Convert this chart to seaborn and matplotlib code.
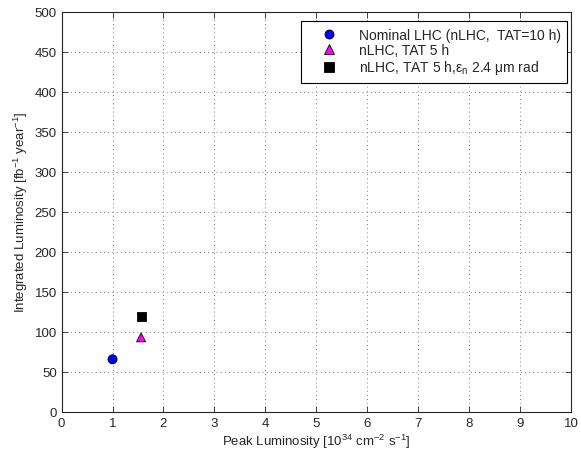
import matplotlib
matplotlib.use("Agg")
import matplotlib.pyplot as plt
import seaborn as sns
import pandas as pd

labels = [
    "Nominal LHC (nLHC,  TAT=10 h)",
    "nLHC, TAT 5 h",
    r"nLHC, TAT 5 h,$\varepsilon_n$ 2.4 $\mu$m rad",
]
peak_lumi = [1.0, 1.56, 1.57]
integrated_lumi = [65.5, 93, 119]

colors = ["#0000ff", "#ff00ff", "#000000"]
markers = ["o", "^", "s"]

sns.set_style("ticks")
plt.rcParams["font.family"] = ["Liberation Sans", "DejaVu Sans"]
plt.rcParams["mathtext.fontset"] = "custom"
plt.rcParams["mathtext.rm"] = "Liberation Sans"
plt.rcParams["mathtext.it"] = "Liberation Sans:italic"
plt.rcParams["mathtext.default"] = "regular"

df = pd.DataFrame({"label": labels, "peak": peak_lumi, "integ": integrated_lumi})

fig = plt.figure(figsize=(5.81, 4.56), dpi=100)
ax = fig.add_axes([0.106, 0.095, 0.877, 0.877])

sns.scatterplot(
    data=df, x="peak", y="integ", hue="label", style="label",
    palette=dict(zip(labels, colors)), markers=dict(zip(labels, markers)),
    s=42, edgecolor="black", linewidth=0.6, ax=ax, zorder=3,
)

ax.set_xlim(0, 10)
ax.set_ylim(0, 500)
ax.set_xticks(range(0, 11))
ax.set_yticks(range(0, 501, 50))
ax.grid(True, linestyle=(0, (1, 4)), color="#555555", linewidth=0.6)
ax.tick_params(direction="in", top=True, right=True, labelsize=9.5, length=4, width=0.6)
for sp in ax.spines.values():
    sp.set_linewidth(0.8)
    sp.set_visible(True)

ax.set_xlabel(r"Peak Luminosity [10$^{34}$ cm$^{-2}$ s$^{-1}$]", fontsize=9.5, labelpad=2)
ax.set_ylabel(r"Integrated Luminosity [fb$^{-1}$ year$^{-1}$]", fontsize=9.5, labelpad=3)

leg = ax.legend(
    loc="upper right", bbox_to_anchor=(0.997, 0.983), fontsize=10,
    frameon=True, fancybox=False, edgecolor="black", framealpha=1,
    handlelength=3.2, handletextpad=0.5, borderpad=0.45, labelspacing=0.1,
    borderaxespad=0.2,
)
leg.get_frame().set_linewidth(0.8)

fig.savefig("out.png", dpi=100)
